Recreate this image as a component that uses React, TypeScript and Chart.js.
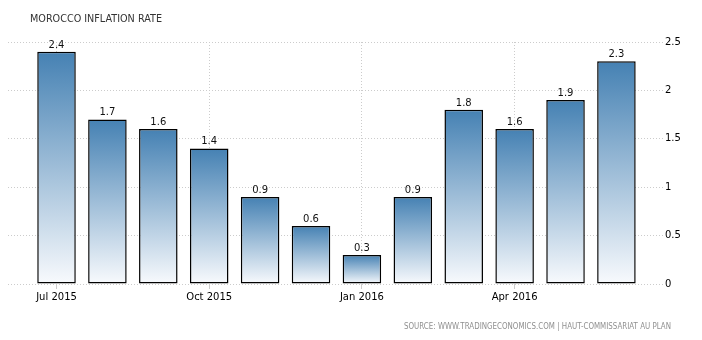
import React, { useEffect, useRef } from "react";
import { Chart, registerables } from "chart.js";

Chart.register(...registerables);

const categories = [
  "Jul 2015", "Aug 2015", "Sep 2015", "Oct 2015", "Nov 2015", "Dec 2015",
  "Jan 2016", "Feb 2016", "Mar 2016", "Apr 2016", "May 2016", "Jun 2016",
];
const inflationValues = [2.4, 1.7, 1.6, 1.4, 0.9, 0.6, 0.3, 0.9, 1.8, 1.6, 1.9, 2.3];
const xTickLabels = ["Jul 2015", "Oct 2015", "Jan 2016", "Apr 2016"];
const yMin = 0;
const yMax = 2.5;
const yStep = 0.5;
const titleText = "MOROCCO INFLATION RATE";
const sourceText = "SOURCE: WWW.TRADINGECONOMICS.COM | HAUT-COMMISSARIAT AU PLAN";

const FONT = "'DejaVu Sans', Verdana, sans-serif";

const overlayPlugin = {
  id: "overlay",
  afterDatasetsDraw(chart: any) {
    const ctx = chart.ctx;
    const meta = chart.getDatasetMeta(0);
    ctx.save();
    ctx.font = `10px ${FONT}`;
    ctx.fillStyle = "#111111";
    ctx.textAlign = "center";
    ctx.textBaseline = "alphabetic";
    meta.data.forEach((el: any, i: number) => {
      ctx.fillText(String(inflationValues[i]), el.x, el.y - 4);
    });
    ctx.restore();
  },
  afterDraw(chart: any) {
    const ctx = chart.ctx;
    ctx.save();
    ctx.textBaseline = "alphabetic";
    ctx.textAlign = "left";
    ctx.font = `11px ${FONT}`;
    ctx.fillStyle = "#333333";
    ctx.fillText(titleText, 30, 22, 132);
    ctx.textAlign = "right";
    ctx.font = `8px ${FONT}`;
    ctx.fillStyle = "#8f8f8f";
    ctx.fillText(sourceText, 671, 328.5, 267);
    ctx.restore();
  },
};

export default function App() {
  const canvasRef = useRef<HTMLCanvasElement | null>(null);

  useEffect(() => {
    const canvas = canvasRef.current;
    if (!canvas) return;
    const data = inflationValues.map((v, i) => ({ x: i, y: v }));
    const chart = new Chart(canvas, {
      type: "bar",
      data: {
        datasets: [
          {
            data,
            backgroundColor: (c: any) => {
              const ch = c.chart;
              const y = ch.scales && ch.scales.y;
              if (!y || c.type !== "data" || !c.parsed) return "#4682b4";
              const top = y.getPixelForValue(c.parsed.y);
              const bottom = y.getPixelForValue(0);
              if (!isFinite(top) || !isFinite(bottom) || top === bottom) return "#4682b4";
              const g = ch.ctx.createLinearGradient(0, top, 0, bottom);
              g.addColorStop(0, "#4581b3");
              g.addColorStop(1, "#f8fafd");
              return g;
            },
            borderColor: "#000000",
            borderWidth: 1.5,
            borderSkipped: false,
            categoryPercentage: 1,
            barPercentage: 0.757,
          } as any,
        ],
      },
      options: {
        responsive: false,
        animation: false,
        layout: { padding: { left: 8, top: 42, right: 0, bottom: 0 } },
        plugins: {
          legend: { display: false },
          tooltip: { enabled: false },
        },
        scales: {
          x: {
            type: "linear",
            position: "bottom",
            offset: false,
            min: -0.953,
            max: 11.915,
            afterBuildTicks: (s: any) => {
              s.ticks = xTickLabels.map((l) => ({ value: categories.indexOf(l) }));
            },
            afterFit: (s: any) => {
              s.height = 56;
            },
            grid: {
              offset: false,
              color: "#cccccc",
              tickColor: "#cccccc",
              tickLength: 5,
              lineWidth: 1,
            },
            border: { display: false, dash: [1, 2] },
            ticks: {
              autoSkip: false,
              maxRotation: 0,
              padding: 2,
              color: "#000000",
              font: { family: FONT, size: 10 },
              callback: (v: any) => categories[Number(v)] ?? "",
            },
          } as any,
          y: {
            position: "right",
            min: yMin,
            max: yMax,
            afterFit: (s: any) => {
              s.width = 39;
            },
            grid: { color: "#cccccc", drawTicks: false, lineWidth: 1 },
            border: { display: false, dash: [1, 2] },
            ticks: {
              stepSize: yStep,
              padding: 2,
              color: "#000000",
              font: { family: FONT, size: 10 },
              callback: (v: any) => String(Number(v)),
            },
          } as any,
        },
      },
      plugins: [overlayPlugin],
    } as any);
    return () => chart.destroy();
  }, []);

  return (
    <div style={{ position: "absolute", left: 0, top: 0, width: 702, height: 340, background: "#ffffff" }}>
      <canvas ref={canvasRef} width={702} height={340} style={{ display: "block", width: 702, height: 340 }} />
    </div>
  );
}
